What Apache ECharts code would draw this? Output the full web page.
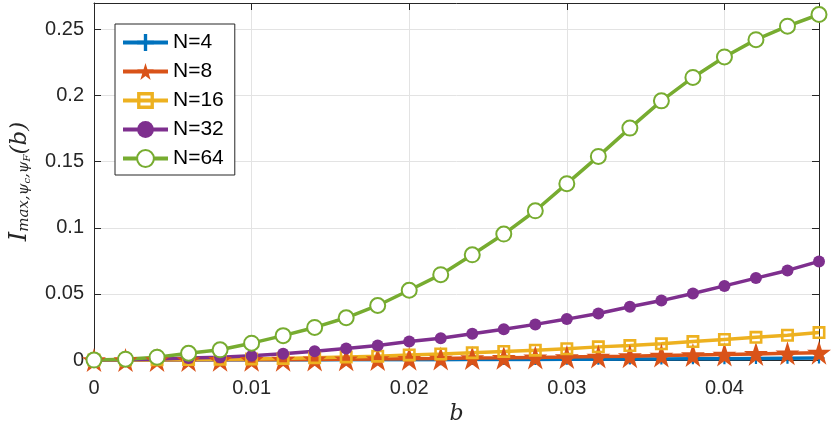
<!DOCTYPE html>
<html>
<head>
<meta charset="utf-8">
<script src="https://cdn.jsdelivr.net/npm/echarts@6/dist/echarts.min.js"></script>
<style>
  html, body { margin: 0; padding: 0; background: #fff; }
  #main { width: 834px; height: 430px; }
</style>
</head>
<body>
<div id="main"></div>
<script>
// b values (x axis)
var bValues = [0, 0.002, 0.004, 0.006, 0.008, 0.010, 0.012, 0.014, 0.016, 0.018, 0.020, 0.022,
  0.024, 0.026, 0.028, 0.030, 0.032, 0.034, 0.036, 0.038, 0.040, 0.042, 0.044, 0.046]

var n4 = [0, 0, 0, 0, 0, 0.0001, 0.0001, 0.0001, 0.0002, 0.0002, 0.0003, 0.0003,
  0.0004, 0.0005, 0.0005, 0.0006, 0.0007, 0.0008, 0.0009, 0.0010, 0.0011, 0.0013, 0.0014, 0.0015]
var n8 = [0, 0, 0.0001, 0.0001, 0.0002, 0.0002, 0.0003, 0.0005, 0.0006, 0.0008, 0.0010, 0.0012,
  0.0015, 0.0017, 0.0020, 0.0023, 0.0027, 0.0030, 0.0034, 0.0038, 0.0042, 0.0047, 0.0051, 0.0056]
var n16 = [0, 0.0001, 0.0002, 0.0004, 0.0006, 0.0009, 0.0013, 0.0018, 0.0024, 0.0030, 0.0039, 0.0046,
  0.0056, 0.0065, 0.0075, 0.0086, 0.0100, 0.0110, 0.0123, 0.0140, 0.0156, 0.0172, 0.0188, 0.0208]
var n32 = [0, 0.0002, 0.0008, 0.0015, 0.0022, 0.0032, 0.0048, 0.0067, 0.0088, 0.0110, 0.0140, 0.0165,
  0.0200, 0.0234, 0.0270, 0.0310, 0.0353, 0.0403, 0.0450, 0.0503, 0.0561, 0.0620, 0.0678, 0.0746]
var n64 = [0, 0.0007, 0.0022, 0.0052, 0.0078, 0.0128, 0.0185, 0.0247, 0.0320, 0.0413, 0.0528, 0.0646,
  0.0796, 0.0953, 0.1129, 0.1334, 0.1540, 0.1754, 0.1960, 0.2137, 0.2292, 0.2423, 0.2525, 0.2613]

var seriesNames = ['N=4', 'N=8', 'N=16', 'N=32', 'N=64']

var chart = echarts.init(document.getElementById('main'))

var font = 'Liberation Sans, Arial, Helvetica, sans-serif'
var axisColor = '#262626'
var gridColor = '#e3e3e3'

function pairs(ys) {
  return bValues.map(function(b, i) { return [b, ys[i]] })
}

// marker shapes (MATLAB style)
var plusPath = 'path://M4,0h2v4h4v2h-4v4h-2v-4h-4v-2h4z'
var starPath = 'path://M100,0L122.5,69.1L195.1,69.1L136.3,111.8L158.8,180.9L100,138.2L41.2,180.9L63.7,111.8L4.9,69.1L77.5,69.1Z'
var squarePath = 'path://M0,0H10V10H0Z M2,2V8H8V2Z'

function lineSeries(name, ys, color, symbol, size, extra) {
  var s = {
    name: name,
    type: 'line',
    data: pairs(ys),
    symbol: symbol,
    symbolSize: size,
    showAllSymbol: true,
    lineStyle: { color: color, width: 3.5 },
    itemStyle: { color: color },
    emphasis: { disabled: true },
    animation: false
  }
  if (extra) Object.assign(s.itemStyle, extra)
  return s
}

var serif = { fontFamily: 'DejaVu Serif', fontStyle: 'italic', color: axisColor }

var option = {
  backgroundColor: '#fff',
  grid: { left: 93, right: 15, top: 3, bottom: 68 },
  legend: {
    orient: 'vertical',
    left: 115,
    top: 24,
    padding: [8, 11, 6, 6],
    itemWidth: 45,
    itemHeight: 21,
    itemGap: 8,
    backgroundColor: '#fff',
    borderColor: axisColor,
    borderWidth: 1,
    lineStyle: { width: 4 },
    textStyle: { fontFamily: font, fontSize: 21, color: '#000' },
    data: seriesNames
  },
  xAxis: [
    {
      type: 'value',
      min: 0,
      max: 0.046,
      interval: 0.01,
      name: 'b',
      nameLocation: 'middle',
      nameGap: 37,
      nameTextStyle: Object.assign({ fontSize: 22 }, serif),
      axisLine: { show: true, onZero: false, lineStyle: { color: axisColor, width: 1 } },
      axisTick: { show: true, inside: true, length: 7, lineStyle: { color: axisColor } },
      axisLabel: { fontFamily: font, fontSize: 20, color: axisColor, margin: 18, showMaxLabel: false },
      splitLine: { show: true, lineStyle: { color: gridColor, width: 1 } }
    },
    {
      type: 'value',
      position: 'top',
      min: 0,
      max: 0.046,
      interval: 0.01,
      axisLine: { show: true, onZero: false, lineStyle: { color: axisColor, width: 1 } },
      axisTick: { show: true, inside: true, length: 7, lineStyle: { color: axisColor } },
      axisLabel: { show: false },
      splitLine: { show: false }
    }
  ],
  yAxis: [
    {
      type: 'value',
      min: 0,
      max: 0.27,
      interval: 0.05,
      name: '{i|I}{s|max,ψ}{ss|c}{s|,ψ}{ss|F}{p|(b)}',
      nameLocation: 'middle',
      nameGap: 62,
      nameRotate: 90,
      nameTextStyle: {
        color: axisColor,
        rich: {
          i: Object.assign({ fontSize: 24, verticalAlign: 'middle' }, serif),
          s: Object.assign({ fontSize: 15, verticalAlign: 'bottom' }, serif),
          ss: Object.assign({ fontSize: 10, verticalAlign: 'bottom' }, serif),
          p: Object.assign({ fontSize: 23, verticalAlign: 'middle' }, serif)
        }
      },
      axisLine: { show: true, onZero: false, lineStyle: { color: axisColor, width: 1 } },
      axisTick: { show: true, inside: true, length: 7, lineStyle: { color: axisColor } },
      axisLabel: { fontFamily: font, fontSize: 20, color: axisColor, margin: 10, showMaxLabel: false },
      splitLine: { show: true, lineStyle: { color: gridColor, width: 1 } }
    },
    {
      type: 'value',
      position: 'right',
      min: 0,
      max: 0.27,
      interval: 0.05,
      axisLine: { show: true, onZero: false, lineStyle: { color: axisColor, width: 1 } },
      axisTick: { show: true, inside: true, length: 7, lineStyle: { color: axisColor } },
      axisLabel: { show: false },
      splitLine: { show: false }
    }
  ],
  series: [
    lineSeries('N=4', n4, '#0072BD', plusPath, 11),
    lineSeries('N=8', n8, '#D95319', starPath, 24),
    lineSeries('N=16', n16, '#EDB120', squarePath, 13),
    lineSeries('N=32', n32, '#7E2F8E', 'circle', 12),
    lineSeries('N=64', n64, '#77AC30', 'emptyCircle', 15, { borderWidth: 3 })
  ]
}

chart.setOption(option)
</script>
</body>
</html>
